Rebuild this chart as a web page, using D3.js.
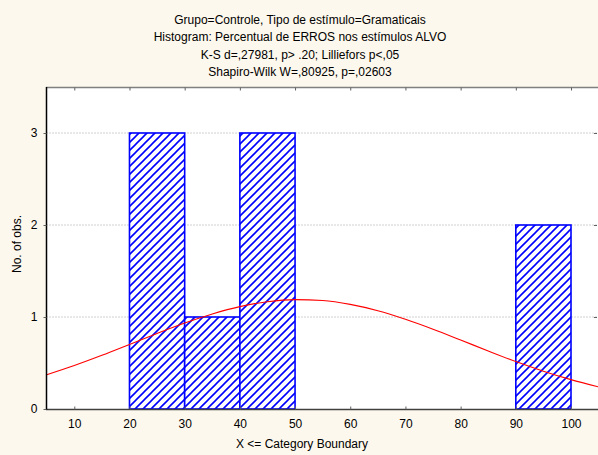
<!DOCTYPE html>
<html><head><meta charset="utf-8">
<script src="https://cdn.jsdelivr.net/npm/d3@7"></script>
<style>html,body{margin:0;padding:0;background:#fdf8ed;}svg{display:block;}</style>
</head><body>
<svg id="chart" width="598" height="455"></svg>
<script>
// Data
const titleLines = [
  "Grupo=Controle, Tipo de estímulo=Gramaticais",
  "Histogram: Percentual de ERROS nos estímulos ALVO",
  "K-S d=,27981, p> .20; Lilliefors p<,05",
  "Shapiro-Wilk W=,80925, p=,02603"
];
const binStarts = [20, 30, 40, 90];
const binEnds   = [30, 40, 50, 100];
const counts    = [3, 1, 3, 2];
const xTicks = [10, 20, 30, 40, 50, 60, 70, 80, 90, 100];
const yTicks = [0, 1, 2, 3];
// Expected-normal curve
const curveX = [5, 10, 15, 20, 25, 30, 35, 40, 45, 50, 55, 60, 65, 70, 75, 80, 85, 90, 95, 100, 105];
const curveY = [0.373, 0.473, 0.584, 0.702, 0.821, 0.934, 1.033, 1.113, 1.166, 1.189, 1.179, 1.137, 1.068, 0.975, 0.867, 0.750, 0.631, 0.516, 0.411, 0.319, 0.240];

const svg = d3.select("#chart");
const L = 46, R = 597, T = 87, B = 409;
const x = d3.scaleLinear().domain([5, 105]).range([46.7, 598.6]);
const y = d3.scaleLinear().domain([0, 3.5]).range([B, T]);
const font = "'Liberation Sans', Arial, sans-serif";

const defs = svg.append("defs");
defs.append("clipPath").attr("id", "clip").append("rect")
  .attr("x", L).attr("y", T).attr("width", R - L + 1).attr("height", B - T);
const pat = defs.append("pattern").attr("id", "hatch").attr("patternUnits", "userSpaceOnUse")
  .attr("width", 8).attr("height", 8);
pat.append("rect").attr("width", 8).attr("height", 8).attr("fill", "#fff");
pat.append("path").attr("d", "M-2,2 L2,-2 M0,8 L8,0 M6,10 L10,6")
  .attr("stroke", "#0000ff").attr("stroke-width", 1.6);

// plot background
svg.append("rect").attr("x", L).attr("y", T).attr("width", R - L + 1).attr("height", B - T).attr("fill", "#fff");

// grid
svg.append("g").selectAll("line").data(yTicks.filter(d => d > 0)).join("line")
  .attr("x1", L).attr("x2", R).attr("y1", d => y(d)).attr("y2", d => y(d))
  .attr("stroke", "#d0d0d0").attr("stroke-width", 1).attr("stroke-dasharray", "2,1");

// bars
svg.append("g").selectAll("rect").data(counts).join("rect")
  .attr("x", (d, i) => x(binStarts[i]))
  .attr("width", (d, i) => x(binEnds[i]) - x(binStarts[i]))
  .attr("y", d => y(d)).attr("height", d => y(0) - y(d))
  .attr("fill", "url(#hatch)").attr("stroke", "#0000ff").attr("stroke-width", 1.6);

// curve
const line = d3.line().x((d, i) => x(curveX[i])).y(d => y(d)).curve(d3.curveMonotoneX);
svg.append("path").datum(curveY).attr("d", line).attr("fill", "none").attr("clip-path", "url(#clip)")
  .attr("stroke", "#ff0000").attr("stroke-width", 1.1);

// frame
svg.append("line").attr("x1", L).attr("x2", R + 1).attr("y1", T + 0.5).attr("y2", T + 0.5).attr("stroke", "#808080").attr("stroke-width", 1.5);
svg.append("line").attr("x1", L).attr("x2", R + 1).attr("y1", B + 0.5).attr("y2", B + 0.5).attr("stroke", "#404040").attr("stroke-width", 1.5);
svg.append("line").attr("x1", L + 0.5).attr("x2", L + 0.5).attr("y1", T).attr("y2", B + 1).attr("stroke", "#000").attr("stroke-width", 1.5);

// axes
const xb = svg.append("g").attr("transform", `translate(0,${B + 0.5})`)
  .call(d3.axisBottom(x).tickValues(xTicks).tickSize(-3).tickPadding(10));
xb.select(".domain").remove();
xb.selectAll("line").attr("stroke", "#606060");
xb.selectAll("text").attr("font-family", font).attr("font-size", 12).attr("fill", "#000");

const xt = svg.append("g").attr("transform", `translate(0,${T + 0.5})`)
  .call(d3.axisTop(x).tickValues(xTicks).tickSize(-3).tickFormat(""));
xt.select(".domain").remove();
xt.selectAll("line").attr("stroke", "#606060");

const yl = svg.append("g").attr("transform", `translate(${L + 0.5},0)`)
  .call(d3.axisLeft(y).tickValues(yTicks).tickFormat(d3.format("d")).tickSize(3).tickPadding(6));
yl.select(".domain").remove();
yl.selectAll("line").attr("stroke", "#606060");
yl.selectAll("text").attr("font-family", font).attr("font-size", 12).attr("fill", "#000");

const yr = svg.append("g").attr("transform", `translate(${R},0)`)
  .call(d3.axisRight(y).tickValues(yTicks.filter(d => d > 0)).tickSize(-3).tickFormat(""));
yr.select(".domain").remove();
yr.selectAll("line").attr("stroke", "#606060");

// titles
svg.append("g").selectAll("text").data(titleLines).join("text")
  .attr("x", 300).attr("y", (d, i) => 24 + i * 17.3)
  .attr("text-anchor", "middle").attr("font-family", font).attr("font-size", 12).text(d => d);

svg.append("text").attr("x", 302).attr("y", 448).attr("text-anchor", "middle")
  .attr("font-family", font).attr("font-size", 12).text("X <= Category Boundary");
svg.append("text").attr("transform", "translate(21,244) rotate(-90)").attr("text-anchor", "middle")
  .attr("font-family", font).attr("font-size", 12).text("No. of obs.");
</script>
</body></html>
